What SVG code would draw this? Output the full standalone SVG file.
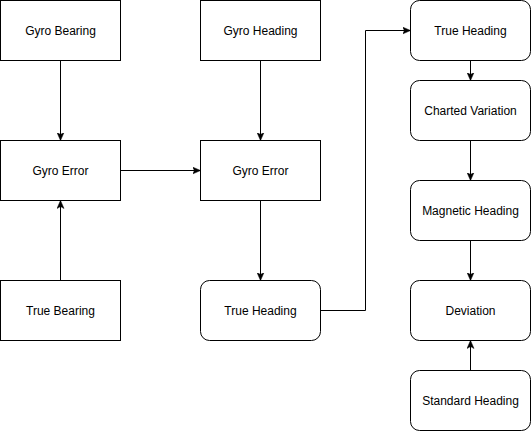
<svg xmlns="http://www.w3.org/2000/svg" width="531" height="431" viewBox="0 0 531 431">
<style>
.box{fill:#fff;stroke:#000;stroke-width:1}
.lbl{font-family:"Liberation Sans",Arial,sans-serif;font-size:12px;fill:#000;text-anchor:middle;dominant-baseline:central}
.edge{fill:none;stroke:#000;stroke-width:1}
</style>
<defs>
<marker id="arr" markerUnits="userSpaceOnUse" viewBox="0 0 8 8" refX="8" refY="4" markerWidth="8" markerHeight="8" orient="auto">
<path d="M0,0.5 L8,4 L0,7.5 L2,4 Z" fill="#000" stroke="#000" stroke-width="0.5"/>
</marker>
</defs>
<rect width="531" height="431" fill="#fff"/>
<g id="connectors">
<path class="edge" d="M60.5,60.5 V140.5" marker-end="url(#arr)"/>
<path class="edge" d="M60.5,280.5 V200.5" marker-end="url(#arr)"/>
<path class="edge" d="M120.5,170.5 H200.5" marker-end="url(#arr)"/>
<path class="edge" d="M260.5,60.5 V140.5" marker-end="url(#arr)"/>
<path class="edge" d="M260.5,200.5 V280.5" marker-end="url(#arr)"/>
<path class="edge" d="M320.5,310.5 H365.5 V30.5 H410.5" marker-end="url(#arr)"/>
<path class="edge" d="M470.5,60.5 V80.5" marker-end="url(#arr)"/>
<path class="edge" d="M470.5,140.5 V180.5" marker-end="url(#arr)"/>
<path class="edge" d="M470.5,240.5 V280.5" marker-end="url(#arr)"/>
<path class="edge" d="M470.5,370.5 V340.5" marker-end="url(#arr)"/>
</g>
<g id="gyro-bearing"><rect class="box" x="0.5" y="0.5" width="120" height="60"/><text class="lbl" x="60.5" y="30.5">Gyro Bearing</text></g>
<g id="gyro-error-1"><rect class="box" x="0.5" y="140.5" width="120" height="60"/><text class="lbl" x="60.5" y="170.5">Gyro Error</text></g>
<g id="true-bearing"><rect class="box" x="0.5" y="280.5" width="120" height="60"/><text class="lbl" x="60.5" y="310.5">True Bearing</text></g>
<g id="gyro-heading"><rect class="box" x="200.5" y="0.5" width="120" height="60"/><text class="lbl" x="260.5" y="30.5">Gyro Heading</text></g>
<g id="gyro-error-2"><rect class="box" x="200.5" y="140.5" width="120" height="60"/><text class="lbl" x="260.5" y="170.5">Gyro Error</text></g>
<g id="true-heading-1"><rect class="box" x="200.5" y="280.5" width="120" height="60" rx="9" ry="9"/><text class="lbl" x="260.5" y="310.5">True Heading</text></g>
<g id="true-heading-2"><rect class="box" x="410.5" y="0.5" width="120" height="60" rx="9" ry="9"/><text class="lbl" x="470.5" y="30.5">True Heading</text></g>
<g id="charted-variation"><rect class="box" x="410.5" y="80.5" width="120" height="60" rx="9" ry="9"/><text class="lbl" x="470.5" y="110.5">Charted Variation</text></g>
<g id="magnetic-heading"><rect class="box" x="410.5" y="180.5" width="120" height="60" rx="9" ry="9"/><text class="lbl" x="470.5" y="210.5">Magnetic Heading</text></g>
<g id="deviation"><rect class="box" x="410.5" y="280.5" width="120" height="60" rx="9" ry="9"/><text class="lbl" x="470.5" y="310.5">Deviation</text></g>
<g id="standard-heading"><rect class="box" x="410.5" y="370.5" width="120" height="60" rx="9" ry="9"/><text class="lbl" x="470.5" y="400.5">Standard Heading</text></g>
</svg>
